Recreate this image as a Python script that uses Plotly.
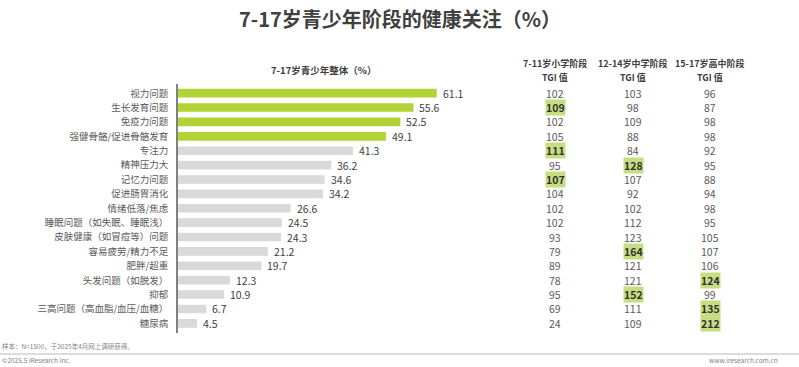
import plotly.graph_objects as go

categories = ["视力问题", "生长发育问题", "免疫力问题", "强健骨骼/促进骨骼发育", "专注力", "精神压力大",
              "记忆力问题", "促进肠胃消化", "情绪低落/焦虑", "睡眠问题（如失眠、睡眠浅）",
              "皮肤健康（如冒痘等）问题", "容易疲劳/精力不足", "肥胖/超重", "头发问题（如脱发）",
              "抑郁", "三高问题（高血脂/血压/血糖）", "糖尿病"]
overall = [61.1, 55.6, 52.5, 49.1, 41.3, 36.2, 34.6, 34.2, 26.6, 24.5, 24.3, 21.2, 19.7, 12.3, 10.9, 6.7, 4.5]
top_n = 4

tgi_headers = [("7-11岁小学阶段", "TGI 值"), ("12-14岁中学阶段", "TGI 值"), ("15-17岁高中阶段", "TGI 值")]
tgi_primary = [102, 109, 102, 105, 111, 95, 107, 104, 102, 102, 93, 79, 89, 78, 95, 69, 24]
tgi_middle = [103, 98, 109, 88, 84, 128, 107, 92, 102, 112, 123, 164, 121, 121, 152, 111, 109]
tgi_high = [96, 87, 98, 98, 92, 95, 88, 94, 98, 95, 105, 107, 106, 124, 99, 135, 212]
hl_primary = [False, True, False, False, True, False, True, False, False, False, False, False, False, False, False, False, False]
hl_middle = [False, False, False, False, False, True, False, False, False, False, False, True, False, False, True, False, False]
hl_high = [False, False, False, False, False, False, False, False, False, False, False, False, False, True, False, True, True]

title = "7-17岁青少年阶段的健康关注（%）"
subtitle = "7-17岁青少年整体（%）"
note = "样本：N=1500，于2025年4月网上调研获得。"
copyright_txt = "©2025.5 iResearch Inc."
site = "www.iresearch.com.cn"

W, H = 799, 367
FONT = "Noto Sans CJK SC"
GREEN = "#b3d235"
GRAY = "#d9d9d9"

colors = [GREEN if i < top_n else GRAY for i in range(len(categories))]

fig = go.Figure()
fig.add_trace(go.Bar(
    x=overall, y=categories, orientation="h",
    marker=dict(color=colors, line=dict(width=0)),
    width=0.6, hoverinfo="skip",
))

ann = []
# value labels
for c, v in zip(categories, overall):
    ann.append(dict(x=v, y=c, xref="x", yref="y", text=f"{v:.1f}", showarrow=False,
                    xanchor="left", xshift=4, font=dict(size=10.5, color="#404040", family=FONT)))

# TGI table
col_x = [555 / W, 633 / W, 710 / W]
for cx, vals, hls, hdr in zip(col_x, [tgi_primary, tgi_middle, tgi_high],
                              [hl_primary, hl_middle, hl_high], tgi_headers):
    for line_txt, ly in zip(hdr, [63.5, 77.5]):
        ann.append(dict(x=cx, y=1 - ly / H, xref="paper", yref="paper", text=f"<b>{line_txt}</b>",
                        showarrow=False, xanchor="center", yanchor="middle", borderpad=0,
                        font=dict(size=9, color="#404040", family=FONT)))
    for c, v, h in zip(categories, vals, hls):
        if h:
            ann.append(dict(x=cx, y=c, xref="paper", yref="y", text=f"<b>{v}</b>", showarrow=False,
                            xanchor="center", yanchor="middle", bgcolor="#c6dd82", borderpad=0,
                            font=dict(size=10.5, color="#333333", family=FONT)))
        else:
            ann.append(dict(x=cx, y=c, xref="paper", yref="y", text=str(v), showarrow=False,
                            xanchor="center", yanchor="middle",
                            font=dict(size=10.5, color="#595959", family=FONT)))

# titles and footer
ann.append(dict(x=0.5, y=1 - 18 / H, xref="paper", yref="paper", text=f"<b>{title}</b>",
                showarrow=False, xanchor="center", yanchor="middle",
                font=dict(size=20, color="#404040", family=FONT)))
ann.append(dict(x=323 / W, y=1 - 70 / H, xref="paper", yref="paper", text=f"<b>{subtitle}</b>",
                showarrow=False, xanchor="center", yanchor="middle",
                font=dict(size=9.5, color="#404040", family=FONT)))
ann.append(dict(x=0, y=1 - 346 / H, xref="paper", yref="paper", text=note,
                showarrow=False, xanchor="left", yanchor="middle",
                font=dict(size=6.5, color="#7f7f7f", family=FONT)))
ann.append(dict(x=0, y=1 - 360 / H, xref="paper", yref="paper", text=copyright_txt,
                showarrow=False, xanchor="left", yanchor="middle",
                font=dict(size=6.5, color="#7f7f7f", family=FONT)))
ann.append(dict(x=780 / W, y=1 - 360 / H, xref="paper", yref="paper", text=site,
                showarrow=False, xanchor="right", yanchor="middle",
                font=dict(size=6.5, color="#7f7f7f", family=FONT)))

row_top, row_bot = 91.0, 325.5
step = (row_bot - row_top) / (len(categories) - 1)
dom_top = 1 - (row_top - step / 2) / H
dom_bot = 1 - (row_bot + step / 2) / H

px_per_unit = 4.235
x0, x1 = 178, 480

fig.update_layout(
    width=W, height=H, autosize=False,
    margin=dict(l=0, r=0, t=0, b=0),
    paper_bgcolor="white", plot_bgcolor="white",
    showlegend=False,
    annotations=ann,
    shapes=[dict(type="line", xref="paper", yref="paper", x0=0, x1=1,
                 y0=1 - 354 / H, y1=1 - 354 / H, line=dict(color="#d0d0d0", width=1.5))],
    xaxis=dict(domain=[x0 / W, x1 / W], range=[0, (x1 - x0) / px_per_unit],
               showgrid=False, zeroline=False, showticklabels=False, showline=False),
    yaxis=dict(domain=[dom_bot, dom_top], autorange="reversed", showgrid=False,
               showline=True, linecolor="#808080", linewidth=1.5,
               ticks="", ticklabelstandoff=6,
               tickfont=dict(size=9.5, color="#595959", family=FONT)),
    bargap=0.4,
)

fig.write_html("out.html", config={"displayModeBar": False},
               post_script="document.body.style.margin='0';document.body.style.overflow='hidden';")
